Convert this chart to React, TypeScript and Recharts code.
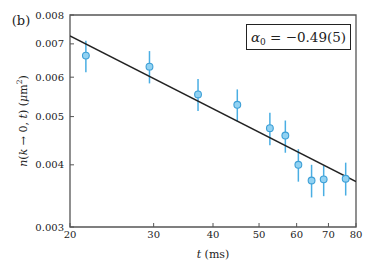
import React from 'react';
import { ComposedChart, Scatter, XAxis, YAxis, ErrorBar, ReferenceArea, Customized } from 'recharts';

const tValues = [21.6, 29.4, 37.2, 45.0, 52.7, 56.8, 60.5, 64.5, 68.4, 76.1];
const nValues = [0.00663, 0.0063, 0.00554, 0.00528, 0.00474, 0.00458, 0.004, 0.00372, 0.00374, 0.00375];
const nUpper = [0.0071, 0.00677, 0.00595, 0.00567, 0.00509, 0.00491, 0.0043, 0.004, 0.00398, 0.00404];
const nLower = [0.00614, 0.00583, 0.00513, 0.00489, 0.00438, 0.00423, 0.0037, 0.00344, 0.00346, 0.00347];

const fitT = [20, 80];
const fitN = [0.00726, 0.0037];

const xTicks = [20, 30, 40, 50, 60, 70, 80];
const yTicks = [0.003, 0.004, 0.005, 0.006, 0.007, 0.008];

const data = tValues.map((t, i) => ({
  t,
  n: nValues[i],
  err: [nValues[i] - nLower[i], nUpper[i] - nValues[i]],
}));
const fitData = fitT.map((t, i) => ({ t, n: fitN[i] }));

const FONT = '"DejaVu Serif", "Liberation Serif", serif';

const Dot = (props: any) => {
  const { cx, cy } = props;
  if (cx == null || cy == null) return <g />;
  return <circle cx={cx} cy={cy} r={3.4} fill="#92d2f2" stroke="#3d9fd6" strokeWidth={1.1} />;
};

const Texts = () => (
  <g fontFamily={FONT} fill="#222">
    <text x={21} y={25} fontSize={13} textAnchor="middle">(b)</text>
    <text
      x={23}
      y={121}
      fontSize={11}
      textAnchor="middle"
      dominantBaseline="central"
      transform="rotate(-90 23 121)"
    >
      <tspan fontStyle="italic">n</tspan>(<tspan fontStyle="italic">k</tspan> → 0, <tspan fontStyle="italic">t</tspan>) (<tspan fontStyle="italic">μ</tspan>m<tspan fontSize={7.5} dy={-4.5}>2</tspan><tspan dy={4.5}>)</tspan>
    </text>
    <text x={213} y={258} fontSize={11} textAnchor="middle">
      <tspan fontStyle="italic">t</tspan> (ms)
    </text>
    <rect x={246.5} y={24.5} width={104} height={25} fill="#fff" stroke="#222" strokeWidth={1} />
    <text x={298.5} y={41.5} fontSize={13.5} textAnchor="middle">
      <tspan fontStyle="italic">α</tspan><tspan fontSize={9} dy={3}>0</tspan><tspan dy={-3}> = −0.49(5)</tspan>
    </text>
  </g>
);

export default function App() {
  return (
    <div style={{ position: 'absolute', left: 0, top: 0, width: 373, height: 272, background: '#fff' }}>
      <ComposedChart width={373} height={272} margin={{ top: 15, right: 17, bottom: 0, left: 0 }}>
        <XAxis
          dataKey="t"
          type="number"
          scale="log"
          domain={[20, 80]}
          ticks={xTicks}
          allowDataOverflow
          height={45}
          axisLine={false}
          tickSize={-4}
          tickMargin={8}
          tickLine={{ stroke: '#555', strokeWidth: 1 }}
          tick={{ fontFamily: FONT, fontSize: 10, fill: '#222' }}
          interval={0}
        />
        <YAxis
          dataKey="n"
          type="number"
          scale="log"
          domain={[0.003, 0.008]}
          ticks={yTicks}
          allowDataOverflow
          width={70}
          axisLine={false}
          tickSize={-4}
          tickMargin={10}
          tickLine={{ stroke: '#555', strokeWidth: 1 }}
          tick={{ fontFamily: FONT, fontSize: 10, fill: '#222' }}
          tickFormatter={(v: number) => v.toFixed(3)}
          interval={0}
        />
        <ReferenceArea x1={20} x2={80} y1={0.003} y2={0.008} fill="none" stroke="#555" strokeWidth={1.3} />
        <Scatter
          data={fitData}
          dataKey="n"
          line={{ stroke: '#222', strokeWidth: 1.5 }}
          shape={() => <g />}
          isAnimationActive={false}
        />
        <Scatter data={data} dataKey="n" shape={Dot} isAnimationActive={false}>
          <ErrorBar dataKey="err" direction="y" width={0} stroke="#4aaee3" strokeWidth={1.5} />
        </Scatter>
        <Customized component={Texts} />
      </ComposedChart>
    </div>
  );
}
